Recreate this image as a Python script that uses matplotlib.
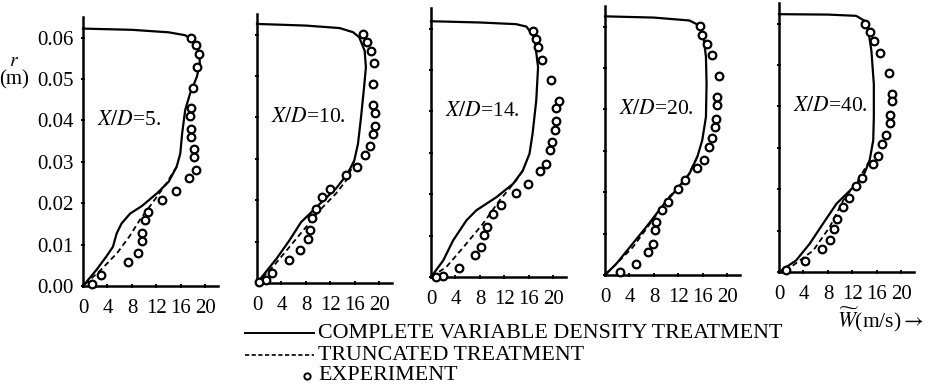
import matplotlib
matplotlib.use("Agg")
import matplotlib.pyplot as plt
from matplotlib.lines import Line2D

plt.rcParams["font.family"] = ["Liberation Serif", "DejaVu Serif"]
plt.rcParams["mathtext.fontset"] = "stix"

# axis ticks
x_ticks = [0, 4, 8, 12, 16, 20]
y_ticks = [0.00, 0.01, 0.02, 0.03, 0.04, 0.05, 0.06]
y_tick_labels = ["0.00", "0.01", "0.02", "0.03", "0.04", "0.05", "0.06"]
panel_labels = ["5.", "10.", "14.", "20.", "40."]

# X/D = 5
sol5_w = [0, 8, 14, 16.7, 18.3, 19.0, 19.1, 18.6, 17.5, 16.7, 16.2, 15.9, 15.3, 14.0, 12.1, 9.6, 7.7, 6.3, 5.5, 4.9, 3.8, 2.2, 0]
sol5_r = [.0622, .0619, .0613, .0606, .0590, .0565, .0537, .0505, .0465, .0425, .0368, .032, .0288, .0252, .0224, .0193, .0175, .0151, .0127, .0095, .0071, .0039, 0]
dash5_w = [15.3, 13.5, 11.3, 9.3, 7.6, 5.6, 3.0, 0]
dash5_r = [.0288, .0245, .020, .016, .012, .008, .004, 0]
exp5_w = [17.6, 18.5, 19.0, 18.6, 17.9, 17.7, 17.5, 17.7, 17.6, 18.2, 18.2, 18.4, 17.4, 15.2, 12.9, 10.6, 10.1, 9.6, 9.6, 9.0, 7.3, 3.0, 1.4]
exp5_r = [.0600, .0582, .0561, .0529, .0479, .0429, .0410, .0380, .0360, .0330, .0312, .0280, .0260, .0230, .0209, .0179, .0159, .0129, .0109, .0079, .0057, .0027, .0006]

# X/D = 10
sol10_w = [0, 8, 13.5, 15.7, 16.7, 17.6, 17.8, 17.5, 17.0, 16.5, 15.9, 14.8, 12.9, 10.8, 8.6, 7.2, 5.3, 3.2, 0]
sol10_r = [.0626, .0622, .0616, .0606, .0594, .0561, .0521, .0473, .0400, .0336, .0296, .0264, .0228, .0199, .0167, .0147, .0103, .0059, 0]
dash10_w = [15.9, 14.8, 12.9, 10.2, 8.0, 5.3, 2.6, 0]
dash10_r = [.0296, .0252, .0216, .0175, .0135, .0087, .0039, 0]
exp10_w = [17.4, 18.0, 18.6, 19.1, 18.9, 19.0, 19.3, 19.3, 19.0, 18.5, 17.7, 16.4, 14.5, 12.0, 10.7, 9.6, 9.0, 8.7, 8.3, 7.1, 5.2, 2.5, 1.4, 0.4]
exp10_r = [.0602, .0582, .0561, .0532, .0481, .0430, .0411, .0380, .0360, .0331, .0310, .0280, .0260, .0228, .0209, .0178, .0158, .0127, .0107, .0079, .0056, .0025, .0008, .0002]

# X/D = 14
sol14_w = [0, 8, 13.9, 15.6, 16.9, 17.5, 17.2, 16.6, 16.1, 15.0, 13.4, 10.7, 7.4, 5.8, 3.6, 2.0, 0]
sol14_r = [.0618, .0615, .0611, .0605, .0579, .0507, .0426, .0346, .0298, .0257, .0225, .0193, .0161, .0137, .0088, .0040, 0]
dash14_w = [15.0, 13.9, 11.2, 8.5, 5.3, 2.5, 0]
dash14_r = [.0257, .0233, .0185, .0129, .0072, .0024, 0]
exp14_w = [16.7, 17.1, 17.5, 18.2, 19.6, 21.0, 20.4, 20.5, 20.3, 19.8, 19.5, 18.8, 17.8, 15.8, 13.9, 11.5, 10.1, 9.1, 8.7, 8.1, 7.2, 4.6, 1.9, 0.8]
exp14_r = [.0595, .0575, .0555, .0524, .0476, .0426, .0409, .0376, .0356, .0326, .0306, .0273, .0255, .0225, .0203, .0173, .0153, .0122, .0102, .0072, .0052, .0022, .0002, .0000]

# X/D = 20
sol20_w = [0, 8, 13.8, 15.4, 16.1, 16.5, 16.6, 16.5, 15.9, 15.1, 13.8, 11.6, 9.5, 6.8, 4.1, 1.9, 0]
sol20_r = [.0625, .0622, .0615, .0603, .0575, .0527, .0462, .0382, .0326, .0286, .0245, .0205, .0169, .0117, .0068, .0028, 0]
dash20_w = [15.1, 13.2, 10.5, 7.8, 4.6, 1.4, 0]
dash20_r = [.0286, .0229, .0189, .0133, .0068, .0020, 0]
exp20_w = [15.5, 15.9, 16.6, 17.5, 18.6, 18.3, 18.3, 18.1, 18.0, 17.5, 17.0, 16.1, 15.1, 13.1, 11.9, 10.3, 9.3, 8.3, 8.1, 7.9, 7.0, 5.0, 2.4]
exp20_r = [.0601, .0581, .0559, .0531, .0480, .0430, .0410, .0378, .0358, .0330, .0310, .0279, .0259, .0229, .0209, .0177, .0157, .0129, .0109, .0076, .0056, .0026, .0008]

# X/D = 40
sol40_w = [0, 8, 12.6, 14.0, 14.6, 15.1, 15.5, 15.5, 15.4, 14.8, 13.7, 11.6, 9.4, 7.2, 5.0, 2.8, 0]
sol40_r = [.0623, .0622, .0619, .0607, .0583, .0535, .0454, .0374, .0318, .0269, .0229, .0197, .0165, .0117, .0068, .0028, 0]
dash40_w = [14.8, 12.9, 10.5, 8.3, 5.6, 2.3, 0]
dash40_r = [.0269, .0221, .0173, .0109, .0052, .0016, 0]
exp40_w = [14.1, 14.8, 15.5, 16.5, 17.9, 18.4, 18.4, 18.2, 18.2, 17.5, 16.8, 16.1, 15.4, 13.6, 12.6, 11.4, 10.4, 9.4, 9.0, 8.3, 7.1, 4.2, 1.2]
exp40_r = [.0599, .0579, .0559, .0529, .0481, .0430, .0414, .0380, .0360, .0330, .0310, .0280, .0260, .0228, .0208, .0179, .0157, .0129, .0105, .0078, .0056, .0026, .0004]

panels = [
    (sol5_w, sol5_r, dash5_w, dash5_r, exp5_w, exp5_r),
    (sol10_w, sol10_r, dash10_w, dash10_r, exp10_w, exp10_r),
    (sol14_w, sol14_r, dash14_w, dash14_r, exp14_w, exp14_r),
    (sol20_w, sol20_r, dash20_w, dash20_r, exp20_w, exp20_r),
    (sol40_w, sol40_r, dash40_w, dash40_r, exp40_w, exp40_r),
]

# panel placement in pixels (origin x, origin y from top) -- scan is slightly tilted
W_PX, H_PX = 932, 390
origins = [(83, 286), (257, 283), (431, 277), (605, 275), (779, 272)]
ax_w, ax_h = 134.6, 269.0

fig = plt.figure(figsize=(9.32, 3.9), dpi=100)

for i, (sw, sr, dw, dr, ew, er) in enumerate(panels):
    x0, y0 = origins[i]
    ax = fig.add_axes([x0 / W_PX, (H_PX - y0) / H_PX, ax_w / W_PX, ax_h / H_PX])
    ax.plot(sw, sr, color="black", lw=1.6, clip_on=False)
    ax.plot(dw, dr, color="black", lw=1.3, linestyle=(0, (3, 2)), clip_on=False)
    ax.plot(ew, er, linestyle="none", marker="o", markersize=5.5,
            markerfacecolor="white", markeredgecolor="black", markeredgewidth=1.6,
            clip_on=False, zorder=3)
    ax.set_xlim(0, 22)
    ax.set_ylim(0, 0.065)
    for s in ["top", "right"]:
        ax.spines[s].set_visible(False)
    for s in ["left", "bottom"]:
        ax.spines[s].set_linewidth(1.8)
    ax.set_xticks(x_ticks)
    ax.set_xticklabels([str(t) for t in x_ticks])
    ax.set_yticks(y_ticks)
    if i == 0:
        ax.set_yticklabels(y_tick_labels)
    else:
        ax.set_yticklabels([])
    ax.tick_params(direction="inout", length=3, width=1.4, labelsize=15)
    ax.tick_params(axis="x", pad=8)
    ax.tick_params(axis="y", pad=5)
    ax.patch.set_alpha(0)
    ax.text(2.3, 0.040, r"$X/D$=" + panel_labels[i], fontsize=15.5, va="center", ha="left")

# axis titles
fig.text(14 / W_PX, 1 - 61 / H_PX, r"$r$", fontsize=14, ha="center", va="center")
fig.text(14 / W_PX, 1 - 80 / H_PX, "(m)", fontsize=15, ha="center", va="center")
fig.text(837 / W_PX, 1 - 320 / H_PX, r"$\widetilde{W}$(m/s)$\rightarrow$", fontsize=15.5,
         ha="left", va="center")

# legend drawn by hand
fig.add_artist(Line2D([245 / W_PX, 314 / W_PX], [1 - 333 / H_PX] * 2,
                      color="black", lw=1.4, transform=fig.transFigure))
fig.add_artist(Line2D([245 / W_PX, 314 / W_PX], [1 - 355 / H_PX] * 2,
                      color="black", lw=1.2, linestyle=(0, (2.5, 1.5)), transform=fig.transFigure))
fig.add_artist(Line2D([307 / W_PX], [1 - 376 / H_PX], linestyle="none", marker="o",
                      markersize=4.5, markerfacecolor="white", markeredgecolor="black",
                      markeredgewidth=1.4, transform=fig.transFigure))
fig.text(318 / W_PX, 1 - 333 / H_PX, "COMPLETE VARIABLE DENSITY TREATMENT", fontsize=15.8, va="center")
fig.text(318 / W_PX, 1 - 355 / H_PX, "TRUNCATED TREATMENT", fontsize=15.8, va="center")
fig.text(318 / W_PX, 1 - 376 / H_PX, "EXPERIMENT", fontsize=15.8, va="center")

fig.savefig("out.png", dpi=100)
